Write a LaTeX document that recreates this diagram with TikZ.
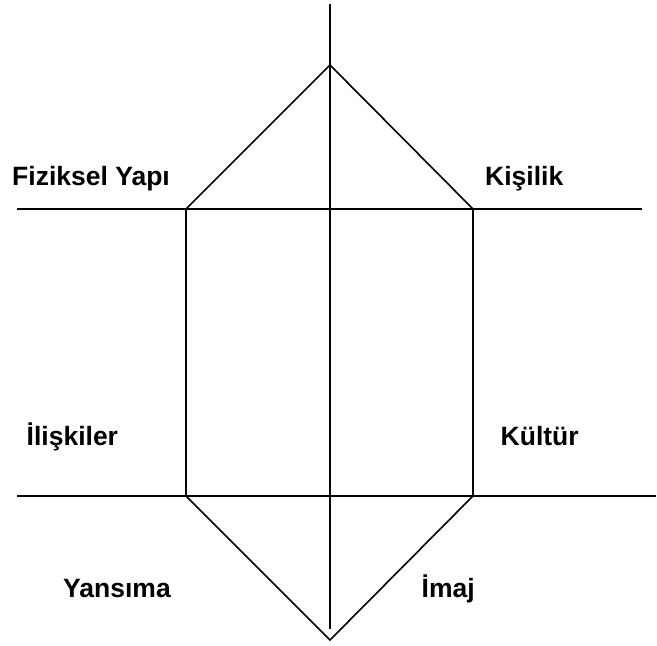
\documentclass[tikz,border=0pt]{standalone}
\usepackage{fontspec}
\setmainfont{Liberation Sans}
\begin{document}
\begin{tikzpicture}[x=1pt,y=-1pt,
  ln/.style={line width=1.6pt},
  lbl/.style={anchor=base west,inner sep=0pt,font=\fontsize{26.5}{30}\selectfont\bfseries}]
\useasboundingbox (0,0) rectangle (657,646);
% key points
\coordinate (vtop) at (330,4);
\coordinate (vbot) at (330,629);
\coordinate (apexT) at (330,65);
\coordinate (apexB) at (330,640);
\coordinate (tl) at (186,209);
\coordinate (tr) at (473,209);
\coordinate (bl) at (186,496);
\coordinate (br) at (473,496);
\coordinate (h1l) at (17,209);
\coordinate (h1r) at (642,209);
\coordinate (h2l) at (17,496);
\coordinate (h2r) at (656,496);
% lines
\draw[ln] (vtop) -- (vbot);
\draw[ln] (h1l) -- (h1r);
\draw[ln] (h2l) -- (h2r);
\draw[ln] (tl) -- (apexT) -- (tr);
\draw[ln] (tl) -- (bl);
\draw[ln] (tr) -- (br);
\draw[ln] (bl) -- (apexB) -- (br);
% labels
\node[lbl] (fy) at (12,185) {Fiziksel Yapı};
\node[lbl] (ki) at (485,185) {Kişilik};
\node[lbl] (il) at (26.5,445.5) {İlişkiler};
\node[lbl] (ku) at (500.5,445.5) {Kültür};
\node[lbl] (ya) at (63,597.5) {Yansıma};
\node[lbl] (im) at (421.5,597) {İmaj};
\end{tikzpicture}
\end{document}
